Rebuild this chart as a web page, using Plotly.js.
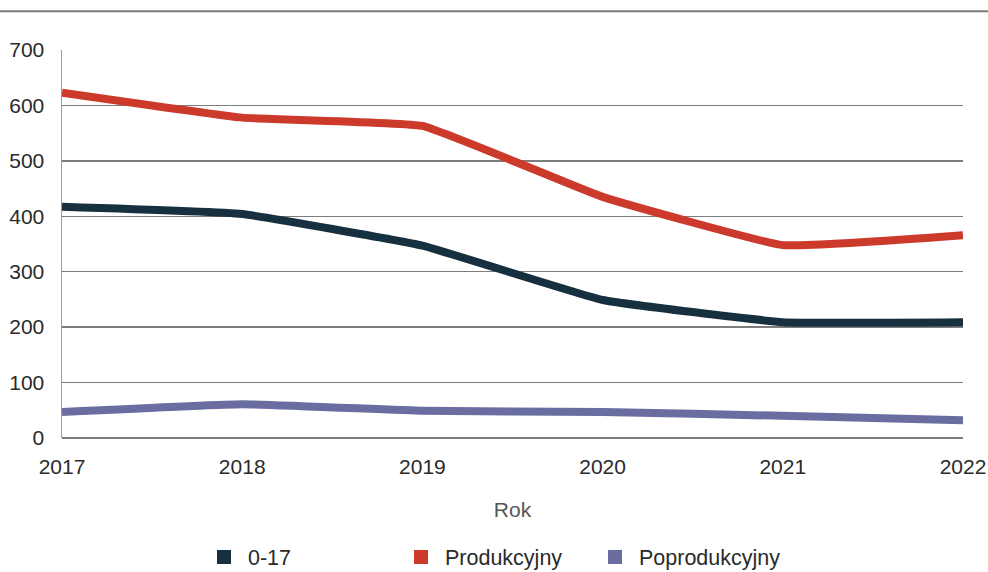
<!DOCTYPE html>
<html><head><meta charset="utf-8">
<script src="https://cdn.plot.ly/plotly-3.0.1.min.js"></script>
<style>html,body{margin:0;padding:0;background:#fff}#chart{width:988px;height:572px}</style>
</head><body><div id="chart"></div>
<script>
const years = ['2017','2018','2019','2020','2021','2022'];
const seriesNames = ['0-17','Produkcyjny','Poprodukcyjny'];
const v017 = [417, 404, 347, 249, 209, 209];
const vProd = [623, 578, 563, 435, 348, 366];
const vPoprod = [47, 61, 49, 47, 40, 32];
const colors = ['#17303f', '#cc3a2c', '#6a6d9f'];
const yTicks = [0,100,200,300,400,500,600,700];

const values = [v017, vProd, vPoprod];
const legendIds = ['legend', 'legend2', 'legend3'];
const legendX = [200, 397, 591];
const traces = [];
values.forEach((vals, i) => {
  traces.push({x: years, y: vals, type: 'scatter', mode: 'lines', name: seriesNames[i],
    line: {color: colors[i], width: 8, shape: 'spline', smoothing: 0.3}, showlegend: false, hoverinfo: 'x+y'});
});
values.forEach((vals, i) => {
  traces.push({x: [null], y: [null], type: 'scatter', mode: 'markers', name: seriesNames[i],
    legend: legendIds[i],
    marker: {color: colors[i], symbol: 'square', size: 14}, showlegend: true});
});

const legendBase = (px) => ({orientation: 'h', xref: 'container', yref: 'container', x: px/988, xanchor: 'left',
    y: 15/572, yanchor: 'middle', font: {size: 21.5, color: '#2a2a2a'}, itemwidth: 38, bgcolor: 'rgba(0,0,0,0)'});

const layout = {
  width: 988, height: 572,
  margin: {l: 62, r: 25, t: 50, b: 134},
  paper_bgcolor: '#fff', plot_bgcolor: '#fff',
  font: {family: '"Liberation Sans", Arial, sans-serif', size: 21, color: '#2a2a2a'},
  xaxis: {type: 'category', range: [0, 5], showgrid: false, zeroline: false,
    showline: false, ticks: '', ticklabelstandoff: 14, tickfont: {size: 21, color: '#2a2a2a'},
    title: {text: 'Rok', font: {size: 21, color: '#555'}, standoff: 25}},
  yaxis: {range: [0, 700], tickvals: yTicks, showgrid: true, gridcolor: '#7d7d7d', gridwidth: 1.5,
    zeroline: true, zerolinecolor: '#7d7d7d', zerolinewidth: 1.5,
    showline: true, linecolor: '#9a9a9a', linewidth: 1.5, ticks: '', ticklabelstandoff: 12,
    tickfont: {size: 21, color: '#2a2a2a'}},
  showlegend: true,
  legend: legendBase(legendX[0]),
  legend2: legendBase(legendX[1]),
  legend3: legendBase(legendX[2]),
  shapes: [{type: 'line', xref: 'paper', yref: 'paper', x0: -0.07, x1: 1.03, y0: 1.1, y1: 1.1,
    line: {color: '#7a7a7a', width: 2}}]
};
Plotly.newPlot('chart', traces, layout, {displayModeBar: false, staticPlot: true});
</script></body></html>
